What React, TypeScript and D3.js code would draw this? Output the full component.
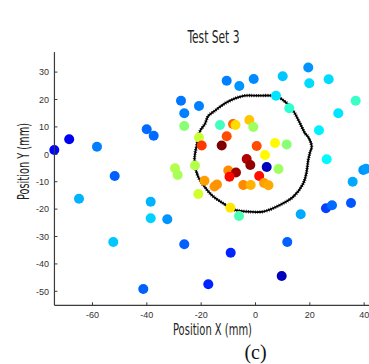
import React from "react";
import * as d3 from "d3";

const W = 369;
const H = 364;

// Point positions (mm) and colour values (0..1 on jet colormap)
const pointX = [
  -74.05, -68.57, -58.34, -51.82, -40.04, -37.47, -27.42, -26.21, -20.8, -64.96,
  -38.57, -38.57, -32.46, -52.34, -26.21, -41.3, -17.37, -9.13, 11.7, 9.64,
  -10.6, -5.96, -0.66, 10.01, 19.43, 19.8, 26.94, 7.55, 12.44, 36.88,
  30.47, 23.37, 26.21, 16.64, 25.95, 28.16, 35.15, 35.77, 39.68, 40.67,
  -26.21, -13.07, -8.28, -7.36, -2.28, -0.81, -20.8, -10.6, -19.8, -12.44,
  0.44, 7.18, 11.48, 3.5, -3.24, -1.91, 4.12, 8.47, -22.27, -10.01,
  -7.18, -9.57, 1.36, -18.77, -15.09, -14.17, -4.49, -1.77, 3.13, 4.78,
  -21.05, -9.27, -6.07, -29.63, -28.63,
];
const pointY = [
  1.57, 5.47, 2.77, -7.92, 9.12, 6.79, 19.56, 14.96, 17.63, -16.2,
  -17.3, -23.36, -23.72, -32.0, -32.85, -49.16, -47.45, -35.91, -32.0, -44.42,
  26.86, 24.93, 27.48, 28.47, 31.68, 25.91, 27.37, 21.39, 16.79, 19.56,
  14.96, 8.76, -1.82, -21.9, -19.71, -18.61, -17.77, -10.0, -5.73, -5.26,
  10.33, 10.69, 11.06, 10.69, 12.52, 9.96, 6.13, 6.57, 3.21, 3.21,
  3.03, 4.12, 3.58, -0.26, -1.72, -3.91, -4.64, -5.36, -4.09, -5.91,
  -6.64, -8.18, -7.92, -9.64, -11.75, -11.02, -11.2, -11.2, -10.47, -11.31,
  -14.49, -19.49, -22.52, -5.11, -7.55,
];
const pointValue = [
  0.13, 0.11, 0.25, 0.22, 0.23, 0.23, 0.24, 0.25, 0.25, 0.3,
  0.3, 0.33, 0.27, 0.32, 0.22, 0.22, 0.16, 0.16, 0.22, 0.06,
  0.25, 0.27, 0.26, 0.32, 0.27, 0.34, 0.34, 0.35, 0.42, 0.43,
  0.35, 0.36, 0.37, 0.29, 0.19, 0.23, 0.21, 0.29, 0.27, 0.28,
  0.51, 0.44, 0.78, 0.66, 0.68, 0.53, 0.57, 0.8, 0.82, 1.0,
  0.8, 0.63, 0.51, 0.63, 0.95, 0.98, 0.06, 0.53, 0.55, 0.74,
  0.97, 0.87, 0.86, 0.72, 0.73, 0.73, 0.74, 0.7, 0.72, 0.71,
  0.58, 0.65, 0.45, 0.55, 0.54,
];

// Closed contour (mm)
const ringX = [
  -22.4, -21.6, -20.4, -18.6, -17.4, -15.5, -11.2, -7.5, -3.9, 0.9, 6.0, 8.3,
  10.9, 13.3, 15.8, 18.2, 19.4, 20.7, 20.1, 19.4, 18.8, 17.6, 13.9, 9.0, 2.9,
  -3.2, -8.2, -11.9, -16.1, -19.2, -21.1, -22.3,
];
const ringY = [
  -0.9, 3.4, 8.5, 11.1, 14.0, 15.5, 18.6, 20.4, 21.4, 21.4, 21.4, 20.9, 19.2,
  16.8, 12.5, 7.7, 6.3, 2.8, 0.8, -2.1, -6.5, -10.6, -15.5, -18.5, -20.9,
  -20.9, -20.1, -17.9, -14.9, -11.2, -8.2, -3.9,
];

const xTicks = [-60, -40, -20, 0, 20, 40];
const yTicks = [-50, -40, -30, -20, -10, 0, 10, 20, 30];

const title = "Test Set 3";
const xLabel = "Position X (mm)";
const yLabel = "Position Y (mm)";
const caption = "(c)";

function jet(v: number): string {
  const c = (t: number) => Math.max(0, Math.min(1, t));
  const r = c(1.5 - Math.abs(4 * v - 3));
  const g = c(1.5 - Math.abs(4 * v - 2));
  const b = c(1.5 - Math.abs(4 * v - 1));
  return d3.rgb(r * 255, g * 255, b * 255).formatHex();
}

export default function App() {
  const x = d3.scaleLinear().domain([-74, 42]).range([54.44, 369.6]);
  const y = d3.scaleLinear().domain([-55.1, 37.3]).range([305.3, 52.1]);

  const ringPts: [number, number][] = ringX.map((v, i) => [x(v), y(ringY[i])]);
  const ringPath =
    d3.line().curve(d3.curveCatmullRomClosed.alpha(0.5))(ringPts) || "";

  const axisColor = "#3a3a3a";
  const tickFont = "'Liberation Sans', Arial, sans-serif";
  const narrowFont =
    "'Liberation Sans Narrow', 'DejaVu Sans Condensed', 'Roboto Condensed', sans-serif";

  const x0 = x.range()[0];
  const y0 = y.range()[0];

  return (
    <svg
      width={W}
      height={H}
      style={{ position: "absolute", left: 0, top: 0, background: "#fff" }}
    >
      <rect x={0} y={0} width={W} height={H} fill="#fff" />
      {/* Title */}
      <text
        x={213.5}
        y={43.3}
        textAnchor="middle"
        fontFamily={narrowFont}
        fontSize={17}
        textLength={52}
        lengthAdjust="spacingAndGlyphs"
        fill="#222"
      >
        {title}
      </text>

      {/* Ring */}
      <path d={ringPath} fill="none" stroke="#000" strokeWidth={1.8} />
      <path
        d={ringPath}
        fill="none"
        stroke="#000"
        strokeWidth={3.4}
        strokeDasharray="0.7 1.6"
      />

      {/* Points */}
      {pointX.map((v, i) => (
        <circle
          key={i}
          cx={x(v)}
          cy={y(pointY[i])}
          r={5}
          fill={jet(pointValue[i])}
        />
      ))}

      {/* Axes */}
      <line x1={x0} y1={y.range()[1]} x2={x0} y2={y0} stroke={axisColor} strokeWidth={1.2} />
      <line x1={x0} y1={y0} x2={W} y2={y0} stroke={axisColor} strokeWidth={1.2} />
      {yTicks.map((t) => (
        <g key={"y" + t}>
          <line x1={x0} x2={x0 + 3} y1={y(t)} y2={y(t)} stroke={axisColor} strokeWidth={1} />
          <text
            x={49}
            y={y(t) + 3.2}
            textAnchor="end"
            fontFamily={tickFont}
            fontSize={9}
            fill="#333"
          >
            {t}
          </text>
        </g>
      ))}
      {xTicks.map((t) => (
        <g key={"x" + t}>
          <line x1={x(t)} x2={x(t)} y1={y0} y2={y0 - 3} stroke={axisColor} strokeWidth={1} />
          <text
            x={x(t)}
            y={317.5}
            textAnchor="middle"
            fontFamily={tickFont}
            fontSize={9}
            fill="#333"
          >
            {t}
          </text>
        </g>
      ))}

      {/* Axis labels */}
      <text
        x={212.5}
        y={334.5}
        textAnchor="middle"
        fontFamily={narrowFont}
        fontSize={16.5}
        textLength={79}
        lengthAdjust="spacingAndGlyphs"
        fill="#222"
      >
        {xLabel}
      </text>
      <text
        transform={`translate(28.5,161.5) rotate(-90)`}
        textAnchor="middle"
        fontFamily={narrowFont}
        fontSize={16.5}
        textLength={77}
        lengthAdjust="spacingAndGlyphs"
        fill="#222"
      >
        {yLabel}
      </text>

      {/* Caption */}
      <text
        x={255.5}
        y={359}
        textAnchor="middle"
        fontFamily="'Liberation Serif', 'Times New Roman', serif"
        fontSize={20}
        fill="#111"
      >
        {caption}
      </text>
    </svg>
  );
}
